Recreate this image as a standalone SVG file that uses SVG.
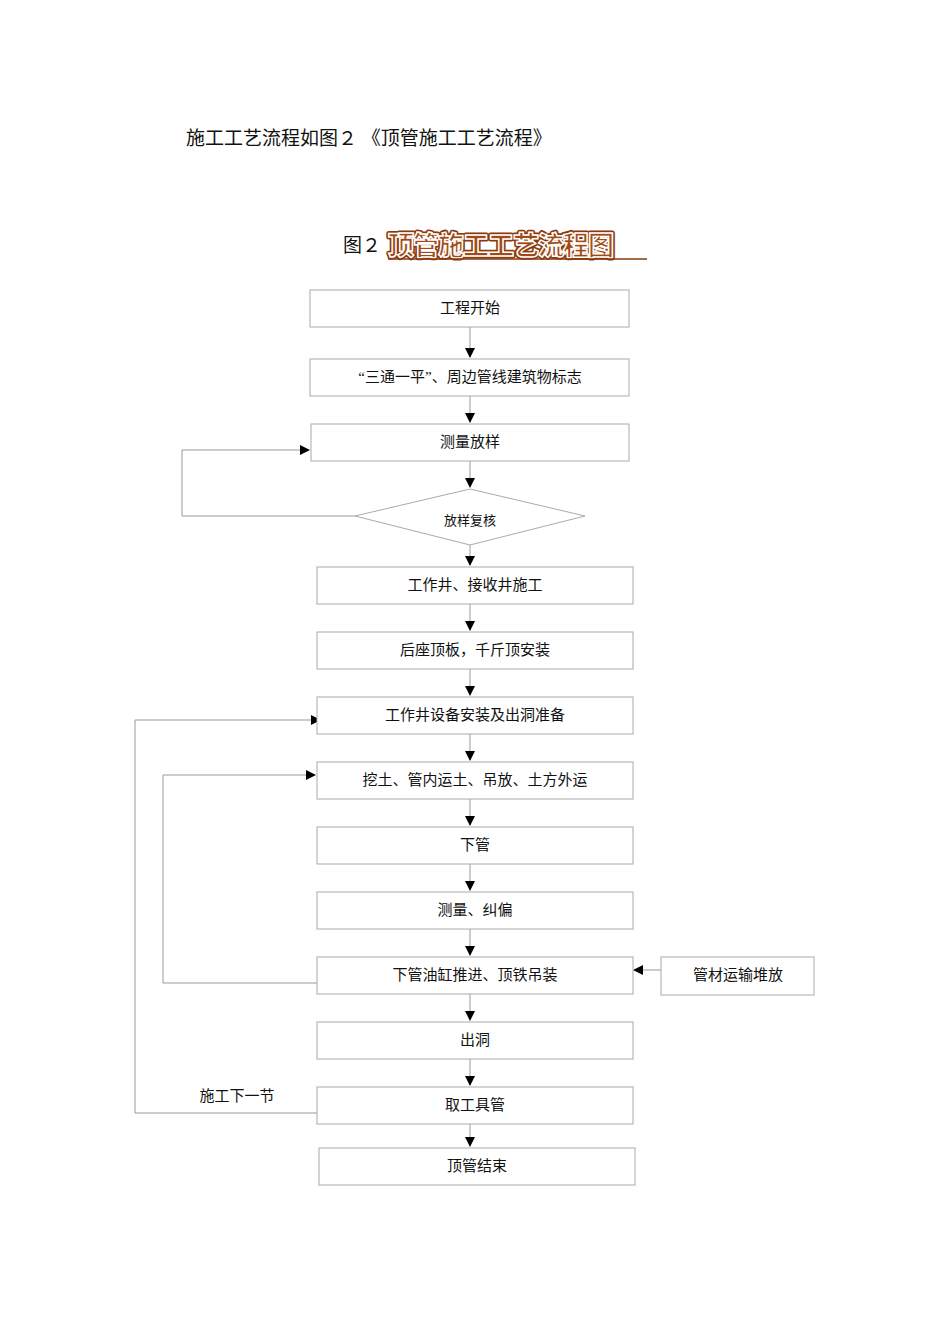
<svg xmlns="http://www.w3.org/2000/svg" width="950" height="1344" viewBox="0 0 950 1344">
<style>
text{font-family:"Liberation Serif","Noto Sans CJK SC",serif;font-size:15px;fill:#111}
.n rect,.n polygon{fill:#fff;stroke:#aaa;stroke-width:1}
.c{fill:#fff;text-anchor:middle}
.t{text-anchor:middle}
#conn path{fill:none;stroke:#999;stroke-width:1}
</style>
<defs><marker id="a" markerWidth="10" markerHeight="10" refX="9" refY="5" orient="auto" markerUnits="userSpaceOnUse"><path d="M0,0L10,5L0,10z" fill="#000"/></marker></defs>
<rect width="950" height="1344" fill="#fff"/>
<text x="186" y="145" style="font-size:19px">施工工艺流程如图２ 《顶管施工工艺流程》</text>
<text x="343" y="252" style="font-size:19px">图２</text>
<g>
<text x="388" y="255" style="font-size:26px;font-weight:900;fill:#8a3a0c;stroke:#8a3a0c;stroke-width:5;stroke-linejoin:round;letter-spacing:-1px">顶管施工工艺流程图</text>
<text x="388" y="255" style="font-size:26px;font-weight:900;fill:#a04a18;stroke:#fff;stroke-width:1.5;letter-spacing:-1px">顶管施工工艺流程图</text>
<line x1="388" y1="259" x2="647" y2="259" stroke="#8a3a0c" stroke-width="1.5"/>
</g>
<g id="conn">
<path d="M470,327V357" marker-end="url(#a)"/>
<path d="M470,396V422" marker-end="url(#a)"/>
<path d="M470,461V487" marker-end="url(#a)"/>
<path d="M470,545V565" marker-end="url(#a)"/>
<path d="M470,604V630" marker-end="url(#a)"/>
<path d="M470,669V695" marker-end="url(#a)"/>
<path d="M470,734V760" marker-end="url(#a)"/>
<path d="M470,799V825" marker-end="url(#a)"/>
<path d="M470,864V890" marker-end="url(#a)"/>
<path d="M470,929V955" marker-end="url(#a)"/>
<path d="M470,994V1020" marker-end="url(#a)"/>
<path d="M470,1059V1085" marker-end="url(#a)"/>
<path d="M470,1124V1146" marker-end="url(#a)"/>
<path d="M355,516H182V450H309" marker-end="url(#a)"/>
<path d="M317,983H163V775H315" marker-end="url(#a)"/>
<path d="M317,1113H135V720H320" marker-end="url(#a)"/>
<path d="M661,970H634" marker-end="url(#a)"/>
</g>
<text x="237" y="1101" class="t">施工下一节</text>
<g id="n1" class="n"><rect x="310" y="290" width="319" height="37"/><text x="470" y="313" class="t">工程开始</text></g>
<g id="n2" class="n"><rect x="310" y="359" width="319" height="37"/><text x="470" y="382" class="t">“三通一平”、周边管线建筑物标志</text></g>
<g id="n3" class="n"><rect x="311" y="424" width="318" height="37"/><text x="470" y="447" class="t">测量放样</text></g>
<g id="n4" class="n"><polygon points="470,489 585,516 470,545 355,516"/><text x="470" y="525" class="t" style="font-size:13px">放样复核</text></g>
<g id="n5" class="n"><rect x="317" y="567" width="316" height="37"/><text x="475" y="590" class="t">工作井、接收井施工</text></g>
<g id="n6" class="n"><rect x="317" y="632" width="316" height="37"/><text x="475" y="655" class="t">后座顶板，千斤顶安装</text></g>
<g id="n7" class="n"><rect x="317" y="697" width="316" height="37"/><text x="475" y="720" class="t">工作井设备安装及出洞准备</text></g>
<g id="n8" class="n"><rect x="317" y="762" width="316" height="37"/><text x="475" y="785" class="t">挖土、管内运土、吊放、土方外运</text></g>
<g id="n9" class="n"><rect x="317" y="827" width="316" height="37"/><text x="475" y="850" class="t">下管</text></g>
<g id="n10" class="n"><rect x="317" y="892" width="316" height="37"/><text x="475" y="915" class="t">测量、纠偏</text></g>
<g id="n11" class="n"><rect x="317" y="957" width="316" height="37"/><text x="475" y="980" class="t">下管油缸推进、顶铁吊装</text></g>
<g id="n12" class="n"><rect x="661" y="957" width="153" height="38"/><text x="738" y="980" class="t">管材运输堆放</text></g>
<g id="n13" class="n"><rect x="317" y="1022" width="316" height="37"/><text x="475" y="1045" class="t">出洞</text></g>
<g id="n14" class="n"><rect x="317" y="1087" width="316" height="37"/><text x="475" y="1110" class="t">取工具管</text></g>
<g id="n15" class="n"><rect x="319" y="1148" width="316" height="37"/><text x="477" y="1171" class="t">顶管结束</text></g>
</svg>
